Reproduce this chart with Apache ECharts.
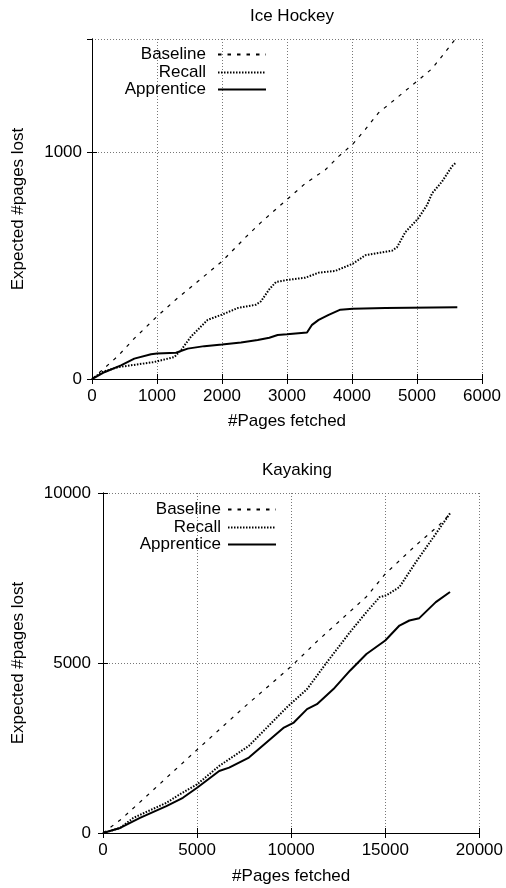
<!DOCTYPE html>
<html>
<head>
<meta charset="utf-8">
<title>Expected pages lost</title>
<script src="https://cdn.jsdelivr.net/npm/echarts@6/dist/echarts.min.js"></script>
<style>
  html, body { margin: 0; padding: 0; background: #fff; }
  #chart { width: 506px; height: 888px; }
</style>
</head>
<body>
<div id="chart"></div>
<script>
// curve names and titles
const seriesNames = ['Baseline', 'Recall', 'Apprentice'];
const titles = ['Ice Hockey', 'Kayaking'];

// Ice Hockey: [pages fetched, expected pages lost]
const hockeyBaseline = [[0, 0], [395, 100], [651, 179], [1000, 276], [1292, 351], [1626, 430], [2000, 519], [2369, 627], [2600, 691], [3000, 792], [3282, 863], [3590, 923], [3795, 982], [4015, 1037], [4205, 1101], [4410, 1175], [4667, 1235], [5015, 1317], [5231, 1369], [5436, 1443], [5590, 1500]];
const hockeyRecall = [[0, 0], [150, 30], [395, 52], [959, 75], [1267, 97], [1369, 127], [1523, 187], [1779, 261], [2000, 284], [2241, 313], [2523, 328], [2600, 343], [2728, 396], [2830, 428], [3000, 437], [3282, 447], [3487, 469], [3744, 477], [4015, 509], [4205, 546], [4615, 566], [4692, 581], [4820, 648], [5015, 707], [5154, 767], [5231, 819], [5385, 871], [5538, 938], [5590, 952]];
const hockeyApprentice = [[0, 0], [190, 30], [446, 60], [651, 90], [908, 109], [1000, 112], [1292, 116], [1472, 134], [1728, 145], [2000, 152], [2292, 161], [2549, 172], [2728, 182], [2856, 194], [3000, 197], [3308, 205], [3385, 239], [3487, 261], [3641, 283], [3821, 306], [4015, 310], [4513, 313], [5620, 316]];

// Kayaking
const kayakBaseline = [[0, 0], [1000, 420], [2500, 1180], [5000, 2450], [7500, 3700], [10000, 4900], [11400, 5650], [12500, 6200], [14000, 6950], [15000, 7620], [16600, 8450], [17860, 9055], [18420, 9370]];
const kayakRecall = [[0, 0], [912, 150], [1614, 444], [3368, 888], [4070, 1134], [5000, 1430], [6175, 1972], [7754, 2564], [9772, 3698], [10842, 4232], [11895, 5020], [13123, 5906], [14000, 6496], [14702, 6939], [15053, 6988], [15754, 7234], [16632, 7972], [17509, 8661], [18440, 9400]];
const kayakApprentice = [[0, 0], [912, 148], [1965, 444], [3368, 789], [4246, 1036], [5000, 1331], [6175, 1824], [6702, 1923], [7754, 2219], [9614, 3100], [10140, 3248], [10842, 3642], [11368, 3789], [12246, 4232], [13123, 4774], [14000, 5266], [15000, 5660], [15754, 6102], [16281, 6250], [16807, 6319], [17684, 6791], [18440, 7087]];

const chart = echarts.init(document.getElementById('chart'));

const font = 'Liberation Sans, Arial, Helvetica, sans-serif';
const fontSize = 17;
const plain = v => String(v);   // no thousands separator, like gnuplot
const lineStyles = [
    { color: '#000', width: 1.2, type: [3.5, 6] },
    { color: '#000', width: 2, type: [1.5, 1.5] },
    { color: '#000', width: 2, type: 'solid' }
];

// one axis pair (plus mirrored axes for the ticks on top/right)
function xAxes(gridIndex, max, interval, nameGap) {
    return [{
        gridIndex, type: 'value', min: 0, max, interval,
        name: '#Pages fetched', nameLocation: 'middle', nameGap,
        nameTextStyle: { fontFamily: font, fontSize, color: '#000' },
        axisLine: { lineStyle: { color: '#000', width: 1 } },
        axisTick: { inside: true, length: 5, lineStyle: { color: '#000' } },
        axisLabel: { fontFamily: font, fontSize, color: '#000', margin: 9, formatter: plain },
        splitLine: { show: true, lineStyle: { color: '#777', type: [1, 2], width: 1 } }
    }, {
        gridIndex, type: 'value', min: 0, max, interval, position: 'top',
        axisLine: { lineStyle: { color: '#000', width: 1 } },
        axisTick: { inside: true, length: 5, lineStyle: { color: '#000' } },
        axisLabel: { show: false }, splitLine: { show: false }
    }];
}
function yAxes(gridIndex, max, interval, nameGap, margin) {
    return [{
        gridIndex, type: 'value', min: 0, max, interval,
        name: 'Expected #pages lost', nameLocation: 'middle', nameGap,
        nameTextStyle: { fontFamily: font, fontSize, color: '#000' },
        axisLine: { show: true, lineStyle: { color: '#000', width: 1 } },
        axisTick: { show: true, inside: true, length: 5, lineStyle: { color: '#000' } },
        axisLabel: { fontFamily: font, fontSize, color: '#000', margin, formatter: plain, showMaxLabel: max % interval === 0 },
        splitLine: { show: true, lineStyle: { color: '#777', type: [1, 2], width: 1 } }
    }, {
        gridIndex, type: 'value', min: 0, max, interval, position: 'right',
        axisLine: { show: true, lineStyle: { color: '#000', width: 1 } },
        axisTick: { show: true, inside: true, length: 5, lineStyle: { color: '#000' } },
        axisLabel: { show: false }, splitLine: { show: false }
    }];
}

// gnuplot style key: text right aligned, sample line to the right of it
function legends(right, tops, gap) {
    return seriesNames.map((name, i) => ({
        data: [name], orient: 'vertical', align: 'right',
        right, top: tops[i], padding: 0,
        itemWidth: 48, itemHeight: 14,
        itemStyle: { opacity: 0 },
        textStyle: { fontFamily: font, fontSize, color: '#000', padding: [0, gap, 0, 0] }
    }));
}

function lines(gridNo, datasets) {
    return datasets.map((data, i) => ({
        name: seriesNames[i], type: 'line', data,
        xAxisIndex: gridNo * 2, yAxisIndex: gridNo * 2,
        showSymbol: false, symbol: 'none', animation: false,
        lineStyle: lineStyles[i], itemStyle: { color: '#000' }
    }));
}

const option = {
    backgroundColor: '#fff',
    animation: false,
    title: [
        { text: titles[0], left: 287, top: 3, textAlign: 'center', textStyle: { fontFamily: font, fontSize, fontWeight: 'normal', color: '#000' } },
        { text: titles[1], left: 292, top: 457, textAlign: 'center', textStyle: { fontFamily: font, fontSize, fontWeight: 'normal', color: '#000' } }
    ],
    grid: [
        { left: 92, top: 39, width: 390, height: 340 },
        { left: 103, top: 493, width: 379, height: 340 }
    ],
    legend: [].concat(legends(239, [46, 64, 81], 7), legends(229, [501, 519, 536], 2)),
    xAxis: [].concat(xAxes(0, 6000, 1000, 34), xAxes(1, 20000, 5000, 35)),
    yAxis: [].concat(yAxes(0, 1500, 1000, 65, 10), yAxes(1, 10000, 5000, 76, 12)),
    series: [].concat(
        lines(0, [hockeyBaseline, hockeyRecall, hockeyApprentice]),
        lines(1, [kayakBaseline, kayakRecall, kayakApprentice])
    )
};

chart.setOption(option);
</script>
</body>
</html>
